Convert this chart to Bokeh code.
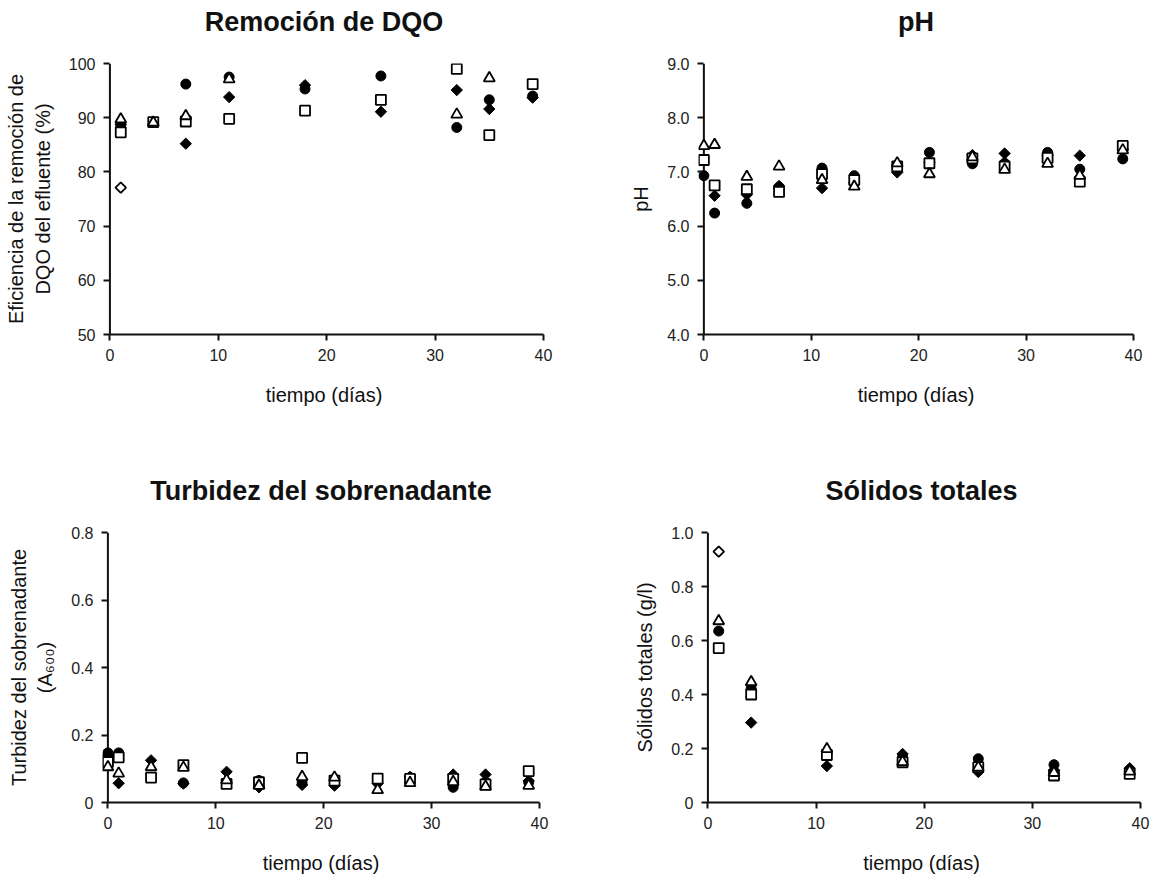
from bokeh.plotting import figure
from bokeh.layouts import column, row
from bokeh.models import Range1d, FixedTicker, NumeralTickFormatter, Span
from bokeh.embed import file_html
from bokeh.resources import INLINE
import math

nan = float("nan")

# ---------------- data ----------------
x_ticks = [0, 10, 20, 30, 40]

# Remoción de DQO
dqo_days = [1, 4, 7, 11, 18, 25, 32, 35, 39]
dqo_diamond = [88.8, nan, 85.2, 93.8, 96.0, 91.1, 95.1, 91.6, 93.7]
dqo_circle = [88.5, nan, 96.2, 97.5, 95.3, 97.7, 88.2, 93.3, 94.0]
dqo_square = [87.3, 89.2, 89.3, 89.8, 91.3, 93.3, 99.0, 86.8, 96.2]
dqo_triangle = [89.7, 89.1, 90.3, 97.1, nan, nan, 90.6, 97.3, nan]
dqo_open_diamond = [77.1, nan, nan, nan, nan, nan, nan, nan, nan]
dqo_yticks = [50, 60, 70, 80, 90, 100]

# pH
ph_days = [0, 1, 4, 7, 11, 14, 18, 21, 25, 28, 32, 35, 39]
ph_diamond = [nan, 6.56, 6.58, 6.74, 6.70, 6.80, 6.99, 7.17, 7.31, 7.34, 7.30, 7.30, 7.42]
ph_circle = [6.93, 6.24, 6.42, 6.72, 7.07, 6.93, 7.07, 7.36, 7.15, 7.16, 7.36, 7.05, 7.24]
ph_square = [7.22, 6.75, 6.68, 6.63, 6.96, 6.85, 7.10, 7.16, 7.25, 7.10, 7.26, 6.82, 7.48]
ph_triangle = [7.48, 7.50, 6.91, 7.10, 6.85, 6.73, 7.16, 6.96, 7.27, 7.04, 7.15, 6.93, 7.40]
ph_yticks = [4.0, 5.0, 6.0, 7.0, 8.0, 9.0]

# Turbidez del sobrenadante
tur_days = [0, 1, 4, 7, 11, 14, 18, 21, 25, 28, 32, 35, 39]
tur_diamond = [0.140, 0.057, 0.125, 0.056, 0.091, 0.045, 0.052, 0.050, 0.057, 0.076, 0.083, 0.083, 0.064]
tur_circle = [0.147, 0.147, nan, 0.058, nan, 0.065, 0.058, 0.070, 0.060, 0.074, 0.045, 0.060, 0.060]
tur_square = [0.120, 0.134, 0.074, 0.111, 0.055, 0.060, 0.132, 0.065, 0.071, 0.070, 0.070, 0.054, 0.093]
tur_triangle = [0.105, 0.086, 0.105, 0.103, 0.066, 0.050, 0.076, 0.074, 0.037, 0.058, 0.061, 0.047, 0.050]
tur_yticks = [0, 0.2, 0.4, 0.6, 0.8]

# Sólidos totales
st_days = [1, 4, 11, 18, 25, 32, 39]
st_diamond = [nan, 0.296, 0.135, 0.180, 0.113, 0.120, 0.127]
st_circle = [0.635, 0.421, 0.180, 0.170, 0.162, 0.140, 0.120]
st_square = [0.572, 0.400, 0.176, 0.149, 0.131, 0.100, 0.106]
st_triangle = [0.672, 0.446, 0.198, 0.150, 0.130, 0.110, 0.115]
st_open_diamond = [0.929, nan, nan, nan, nan, nan, nan]
st_yticks = [0, 0.2, 0.4, 0.6, 0.8, 1.0]

FONT = "Liberation Sans"
X_START = -0.5
X_ORIGIN = 0


def make_fig(title, ylabel, yr, yticks, width, height, mb):
    p = figure(width=width, height=height, output_backend="svg", toolbar_location=None,
               x_range=Range1d(X_START, 40), y_range=Range1d(*yr),
               min_border_left=mb[0], min_border_right=mb[1],
               min_border_top=mb[2], min_border_bottom=mb[3])
    p.outline_line_color = None
    p.grid.visible = False
    # trailing empty line lifts the title away from the frame
    p.title.text = title + "\n"
    p.title.align = "center"
    p.title.text_line_height = 0.85
    p.title.text_font = FONT
    p.title.text_font_size = "27px"
    p.title.text_font_style = "bold"
    p.title.text_color = "#111111"
    p.title.standoff = 2
    for ax in (p.xaxis[0], p.yaxis[0]):
        ax.axis_line_width = 2
        ax.axis_line_color = "#111111"
        ax.major_tick_line_width = 2
        ax.major_tick_line_color = "#111111"
        ax.major_tick_out = 6
        ax.major_tick_in = 0
        ax.minor_tick_line_color = None
        ax.major_label_text_font = FONT
        ax.major_label_text_font_size = "16px"
        ax.major_label_text_color = "#222222"
        ax.axis_label_text_font = FONT
        ax.axis_label_text_font_size = "20px"
        ax.axis_label_text_font_style = "normal"
        ax.axis_label_text_color = "#111111"
    p.xaxis.ticker = FixedTicker(ticks=x_ticks)
    p.xaxis.bounds = (X_ORIGIN, 40)
    p.xaxis.axis_label = "tiempo (días)"
    p.xaxis.major_label_standoff = 8
    p.xaxis.axis_label_standoff = 20
    # y axis: labels/ticks from the standard axis, its line drawn at x = 0
    p.yaxis.ticker = FixedTicker(ticks=yticks)
    p.yaxis.axis_line_color = None
    p.yaxis.major_tick_out = 1
    p.yaxis.major_tick_in = 5
    p.yaxis.axis_label = ylabel
    p.yaxis.major_label_standoff = 8
    p.yaxis.axis_label_standoff = 12
    p.add_layout(Span(location=X_ORIGIN, dimension="height", line_color="#111111",
                      line_width=2, level="underlay"))
    return p


def add_series(p, days, diamond=None, circle=None, square=None, triangle=None, odiamond=None):
    if diamond is not None:
        p.scatter(days, diamond, marker="square", angle=math.pi / 4, size=8,
                  fill_color="black", line_color="black", line_width=1)
    if circle is not None:
        p.scatter(days, circle, marker="circle", size=10,
                  fill_color="black", line_color="black", line_width=1)
    if square is not None:
        p.scatter(days, square, marker="square", size=10,
                  fill_color="white", line_color="black", line_width=1.8)
    if triangle is not None:
        p.scatter(days, triangle, marker="triangle", size=11,
                  fill_color="white", line_color="black", line_width=1.8)
    if odiamond is not None:
        p.scatter(days, odiamond, marker="square", angle=math.pi / 4, size=7.5,
                  fill_color="white", line_color="black", line_width=1.8)


p1 = make_fig("Remoción de DQO", "Eficiencia de la remoción de\nDQO del efluente (%)",
              (50, 100), dqo_yticks, 583, 424, (104, 40, 63, 90))
add_series(p1, dqo_days, dqo_diamond, dqo_circle, dqo_square, dqo_triangle, dqo_open_diamond)

p2 = make_fig("pH", "pH", (4, 9), ph_yticks, 574, 424, (115, 24, 63, 89))
p2.yaxis.formatter = NumeralTickFormatter(format="0.0")
add_series(p2, ph_days, ph_diamond, ph_circle, ph_square, ph_triangle)

p3 = make_fig("Turbidez del sobrenadante", "Turbidez del sobrenadante\n(A₆₀₀)",
              (0, 0.8), tur_yticks, 583, 452, (102, 44, 107, 71))
p3.yaxis.major_label_overrides = {0: "0", 0.2: "0.2", 0.4: "0.4", 0.6: "0.6", 0.8: "0.8"}
add_series(p3, tur_days, tur_diamond, tur_circle, tur_square, tur_triangle)

p4 = make_fig("Sólidos totales", "Sólidos totales (g/l)", (0, 1.0), st_yticks,
              574, 452, (119, 17, 108, 72))
p4.yaxis.major_label_overrides = {0: "0", 0.2: "0.2", 0.4: "0.4", 0.6: "0.6", 0.8: "0.8", 1.0: "1.0"}
add_series(p4, st_days, st_diamond, st_circle, st_square, st_triangle, st_open_diamond)

layout = column(row(p1, p2), row(p3, p4))
open("out.html", "w").write(file_html(layout, INLINE))
